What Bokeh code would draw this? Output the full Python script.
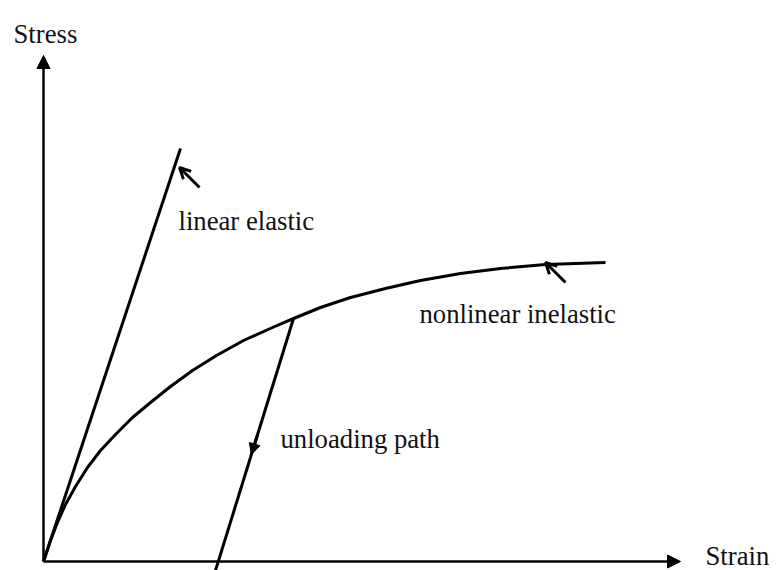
from bokeh.plotting import figure
from bokeh.models import Range1d, Arrow, NormalHead, OpenHead, ColumnDataSource
from bokeh.core.properties import value
from bokeh.embed import file_html
from bokeh.resources import INLINE

# ---- data (strain / stress, arbitrary units) ----
curve_strain = [0.00, 0.07, 0.14, 0.22, 0.32, 0.44, 0.57, 0.72, 0.89, 1.07, 1.27, 1.49, 1.73,
                2.00, 2.29, 2.50, 2.77, 3.07, 3.42, 3.77, 4.17, 4.57, 5.02, 5.32, 5.62]
curve_stress = [0.00, 0.21, 0.39, 0.57, 0.75, 0.94, 1.11, 1.27, 1.44, 1.59, 1.75, 1.91, 2.06,
                2.21, 2.34, 2.43, 2.54, 2.64, 2.73, 2.81, 2.88, 2.93, 2.97, 2.98, 2.99]

elastic_strain = [0.00, 1.37]
elastic_stress = [0.00, 4.13]

unload_strain = [2.50, 1.72]
unload_stress = [2.43, -0.09]

axis_end_strain = 6.37
axis_end_stress = 5.06

labels = ["Stress", "linear elastic", "nonlinear inelastic", "unloading path", "Strain"]
label_x = [-0.30, 1.35, 3.76, 2.37, 6.62]
label_y = [5.28, 3.41, 2.48, 1.23, 0.06]

# pointer arrows: (tail_x, tail_y, tip_x, tip_y)
pointer_elastic = (1.56, 3.74, 1.36, 3.94)
pointer_nonlinear = (5.22, 2.79, 5.02, 2.99)

unload_head_t = 0.54

# ---- figure ----
p = figure(width=777, height=570, output_backend="svg", toolbar_location=None,
           x_range=Range1d(-0.43, 7.34), y_range=Range1d(-0.09, 5.61),
           min_border=0)
p.axis.visible = False
p.grid.visible = False
p.outline_line_color = None
p.background_fill_color = "white"
p.border_fill_color = "white"

# axes with arrows
p.add_layout(Arrow(end=NormalHead(size=13, fill_color="black", line_color="black", line_width=1),
                   x_start=0, y_start=0, x_end=0, y_end=axis_end_stress,
                   line_width=2.5, line_color="black"))
p.add_layout(Arrow(end=NormalHead(size=13, fill_color="black", line_color="black", line_width=1),
                   x_start=0, y_start=0, x_end=axis_end_strain, y_end=0,
                   line_width=2.5, line_color="black"))

# curves
p.line(elastic_strain, elastic_stress, line_width=3, line_color="black")
p.line(curve_strain, curve_stress, line_width=3, line_color="black", line_join="round")
p.line(unload_strain, unload_stress, line_width=3, line_color="black")

# unloading direction head
ux0, ux1 = unload_strain
uy0, uy1 = unload_stress
t0 = unload_head_t - 0.08
p.add_layout(Arrow(end=NormalHead(size=11, fill_color="black", line_color="black", line_width=1),
                   x_start=ux0 + (ux1 - ux0) * t0, y_start=uy0 + (uy1 - uy0) * t0,
                   x_end=ux0 + (ux1 - ux0) * unload_head_t, y_end=uy0 + (uy1 - uy0) * unload_head_t,
                   line_width=3, line_color="black"))

# pointer arrows
for tx, ty, hx, hy in (pointer_elastic, pointer_nonlinear):
    p.add_layout(Arrow(end=OpenHead(size=11, line_width=3, line_color="black"),
                       x_start=tx, y_start=ty, x_end=hx, y_end=hy,
                       line_width=3, line_color="black"))

src = ColumnDataSource(dict(x=label_x, y=label_y, t=labels))
p.text(x="x", y="y", text="t", source=src, text_font=value("Liberation Serif"),
       text_font_size="26.7px", text_color="#111111", text_align="left",
       text_baseline="alphabetic")

open("out.html", "w").write(file_html(p, INLINE))
